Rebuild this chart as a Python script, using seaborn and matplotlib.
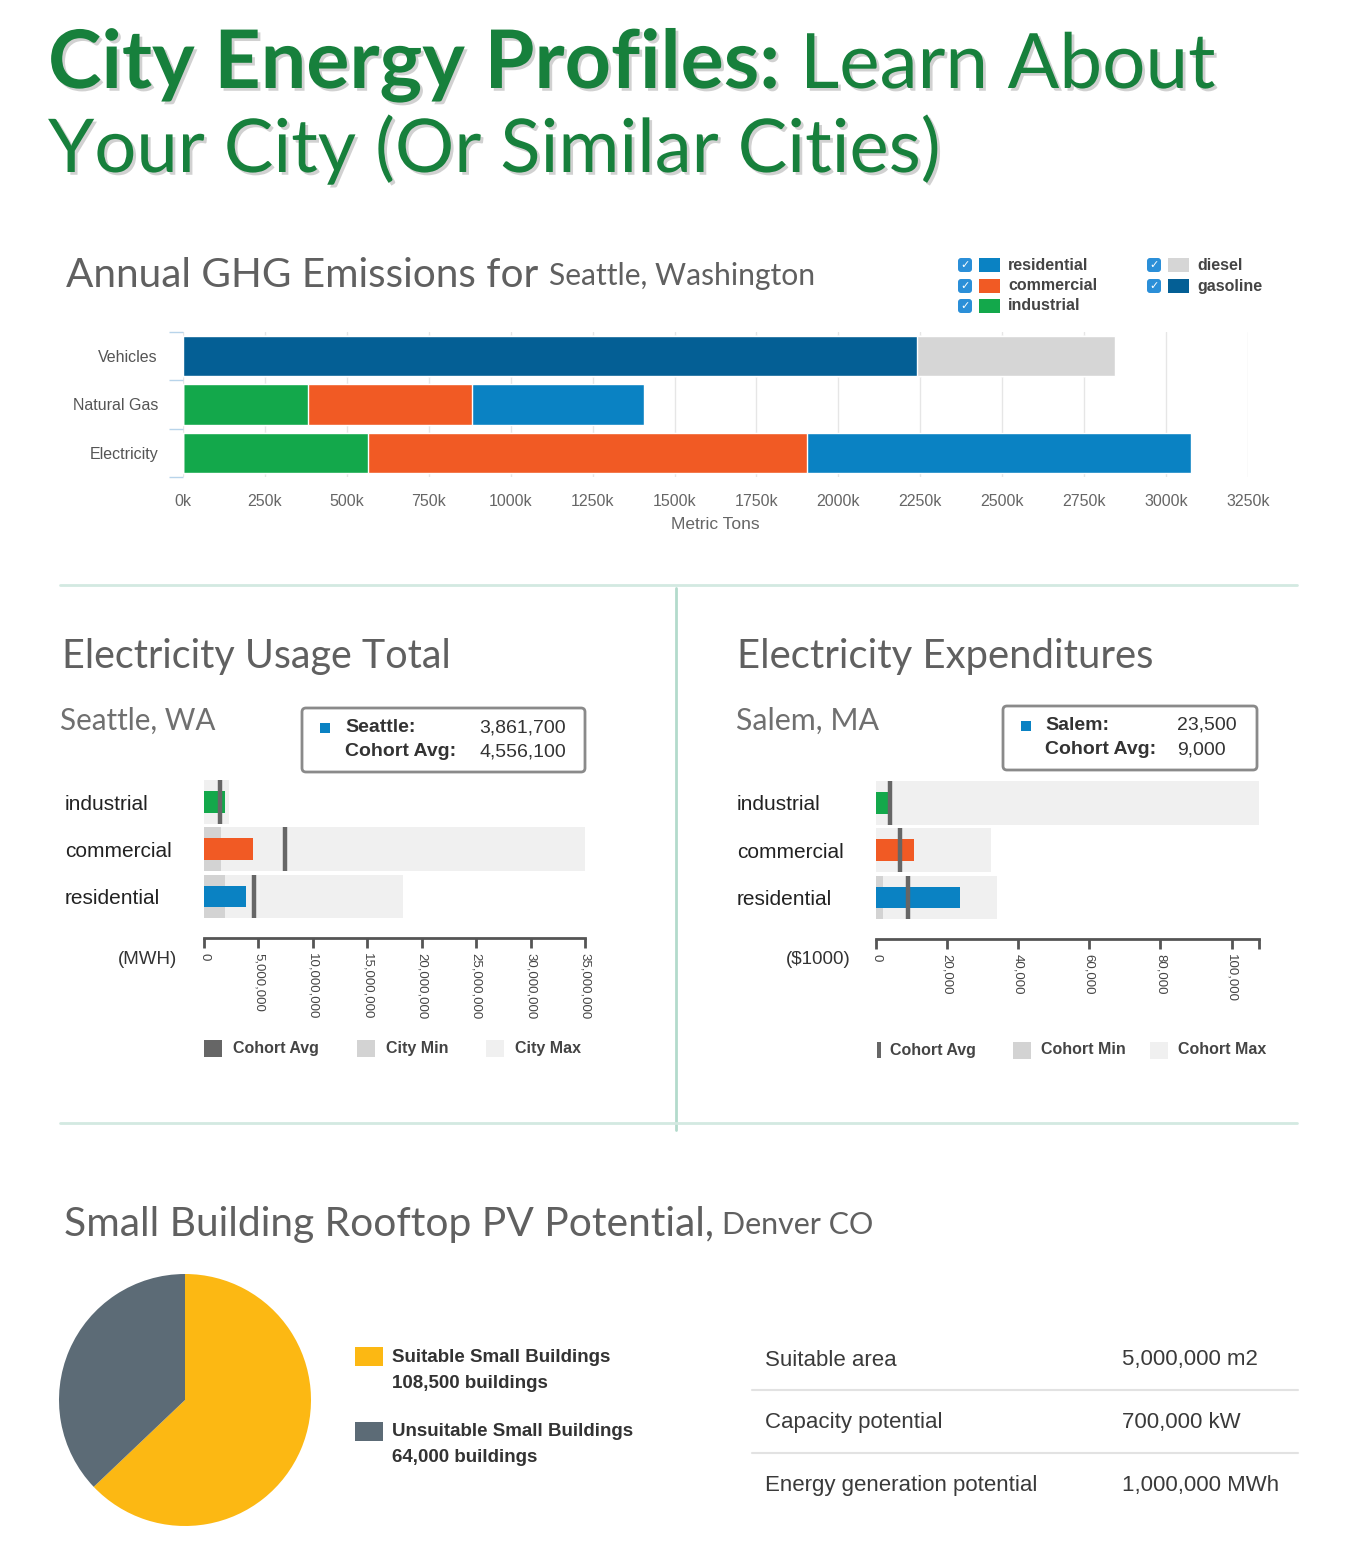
import numpy as np
import pandas as pd
import matplotlib
matplotlib.use('Agg')
import matplotlib.pyplot as plt
import seaborn as sns
from matplotlib.patches import FancyBboxPatch, Rectangle
import matplotlib.patheffects as pe

# ------------------------------------------------------------------ data
ghg_sectors = ['Vehicles', 'Natural Gas', 'Electricity']
ghg_gasoline = [2240, 0, 0]
ghg_diesel = [605, 0, 0]
ghg_industrial = [0, 381, 565]
ghg_commercial = [0, 501, 1339]
ghg_residential = [0, 525, 1172]
ghg_ticks = list(range(0, 3251, 250))

usage_categories = ['industrial', 'commercial', 'residential']
usage_city = [1_900_000, 4_500_000, 3_861_700]
usage_cohort_avg = [1_450_000, 7_450_000, 4_556_100]
usage_city_min = [0, 1_600_000, 1_900_000]
usage_city_max = [2_300_000, 35_000_000, 18_300_000]
usage_ticks = list(range(0, 35_000_001, 5_000_000))

exp_categories = ['industrial', 'commercial', 'residential']
exp_city = [3_300, 10_800, 23_500]
exp_cohort_avg = [3_800, 6_700, 9_000]
exp_cohort_min = [0, 0, 1_900]
exp_cohort_max = [107_700, 32_300, 33_900]
exp_ticks = list(range(0, 100_001, 20_000))
exp_axis_max = 107_700

pv_labels = ['Suitable Small Buildings', 'Unsuitable Small Buildings']
pv_buildings = [108_500, 64_000]
pv_metrics = ['Suitable area', 'Capacity potential', 'Energy generation potential']
pv_values = ['5,000,000 m2', '700,000 kW', '1,000,000 MWh']

# ------------------------------------------------------------------ style
C_RES, C_COM, C_IND = '#0a82c3', '#f15a24', '#13a84b'
C_DIE, C_GAS = '#d6d6d6', '#045f95'
C_MAX, C_MIN, C_AVG = '#f0f0f0', '#d3d3d3', '#666666'
C_YEL, C_SLATE = '#fcb813', '#5c6b76'
GREEN = '#17803c'
TITLE_GREY = '#606060'
TXT = '#333333'
cat_colors = {'industrial': C_IND, 'commercial': C_COM, 'residential': C_RES}

sns.set_theme(style='white')
plt.rcParams['font.family'] = ['Liberation Sans', 'DejaVu Sans']

W, H = 1350, 1553
fig = plt.figure(figsize=(W / 100, H / 100), dpi=100)
fig.patch.set_facecolor('white')


def px(x0, y0, x1, y1):
    return [x0 / W, 1 - y1 / H, (x1 - x0) / W, (y1 - y0) / H]


ov = fig.add_axes([0, 0, 1, 1], zorder=0)
ov.set_xlim(0, W)
ov.set_ylim(H, 0)
ov.axis('off')
ov.patch.set_alpha(0)
renderer = fig.canvas.get_renderer()


def fit(x, y, s, width, family='Lato', weight='normal', color=TITLE_GREY, **kw):
    t = ov.text(x, y, s, fontsize=30, family=family, weight=weight, color=color,
                va='baseline', ha='left', **kw)
    w = t.get_window_extent(renderer=renderer).width
    t.set_fontsize(30 * width / w)
    return t


def T(x, y, s, size, weight='normal', color=TXT, ha='left', va='center', **kw):
    return ov.text(x, y, s, fontsize=size, weight=weight, color=color, ha=ha, va=va, **kw)


# ------------------------------------------------------------------ main title
shadow = [pe.SimplePatchShadow(offset=(2, -2), shadow_rgbFace='#9a9a9a', alpha=0.45), pe.Normal()]
t = fit(48, 88, 'City Energy Profiles:', 732, weight='bold', color=GREEN)
t.set_path_effects(shadow)
t = fit(800, 88, 'Learn About', 415, color=GREEN)
t.set_path_effects(shadow)
t = fit(48, 172, 'Your City (Or Similar Cities)', 892, color=GREEN)
t.set_path_effects(shadow)

# ------------------------------------------------------------------ GHG chart
fit(66, 287, 'Annual GHG Emissions for', 472)
fit(549, 285, 'Seattle, Washington', 266)


def checkbox(x, yc):
    ov.add_patch(FancyBboxPatch((x, yc - 7), 14, 14, boxstyle='round,pad=0,rounding_size=3',
                                fc='#2b8fd8', ec='none'))
    ov.text(x + 7, yc, '\u2713', color='white', ha='center', va='center', fontsize=8,
            family='DejaVu Sans', weight='bold')


leg1 = [('residential', C_RES, 958, 265), ('commercial', C_COM, 958, 286),
        ('industrial', C_IND, 958, 306), ('diesel', C_DIE, 1147, 265),
        ('gasoline', C_GAS, 1147, 286)]
for name, col, x, yc in leg1:
    checkbox(x, yc)
    ov.add_patch(Rectangle((x + 21, yc - 7), 21, 14, fc=col, ec='none'))
    T(x + 50, yc, name, 11.5, weight='bold', color='#444444')

ax1 = fig.add_axes(px(183, 332, 1248, 477))
df_ghg = pd.DataFrame({'sector': ghg_sectors, 'gasoline': ghg_gasoline, 'diesel': ghg_diesel,
                       'industrial': ghg_industrial, 'commercial': ghg_commercial,
                       'residential': ghg_residential})
stack_order = ['gasoline', 'diesel', 'industrial', 'commercial', 'residential']
ghg_colors = {'gasoline': C_GAS, 'diesel': C_DIE, 'industrial': C_IND,
              'commercial': C_COM, 'residential': C_RES}
cum = df_ghg[stack_order].cumsum(axis=1)
for col in reversed(stack_order):
    sns.barplot(x=cum[col], y=df_ghg['sector'], orient='h', color=ghg_colors[col],
                saturation=1, width=0.83, order=ghg_sectors, errorbar=None,
                edgecolor='white', linewidth=1.0, ax=ax1)
ax1.set_xlim(0, 3250)
ax1.set_ylim(2.5, -0.5)
ax1.set_xticks(ghg_ticks)
ax1.set_xticklabels([f'{v}k' for v in ghg_ticks], fontsize=11.5, color='#666666')
ax1.tick_params(axis='x', length=0, pad=12)
ax1.tick_params(axis='y', which='major', length=0, pad=18, labelsize=11.5, labelcolor='#555555')
ax1.set_yticks([-0.5, 0.5, 1.5, 2.5], minor=True)
ax1.tick_params(axis='y', which='minor', length=10, width=1, color='#b8d4ea', left=True)
ax1.grid(axis='x', color='#e6e6e6', lw=1)
ax1.set_axisbelow(True)
for s in ax1.spines.values():
    s.set_visible(False)
ax1.set_ylabel('')
ax1.set_xlabel('Metric Tons', fontsize=12.5, color='#666666', labelpad=6)

# ------------------------------------------------------------------ separators
ov.plot([60, 1297], [585, 585], color='#d3e9e1', lw=2)
ov.plot([676, 676], [588, 1130], color='#b3dbcc', lw=2)
ov.plot([60, 1297], [1123, 1123], color='#d3e9e1', lw=2)


# ------------------------------------------------------------------ bullet charts
def bullet(ax, cats, city, avg, cmin, cmax, xmax, ticks, extra_tick=None):
    df = pd.DataFrame({'category': cats, 'city': city, 'avg': avg, 'min': cmin, 'max': cmax})
    sns.barplot(data=df, y='category', x='max', orient='h', color=C_MAX, saturation=1,
                width=0.92, order=cats, errorbar=None, linewidth=0, ax=ax)
    sns.barplot(data=df, y='category', x='min', orient='h', color=C_MIN, saturation=1,
                width=0.92, order=cats, errorbar=None, linewidth=0, ax=ax)
    sns.barplot(data=df, y='category', x='city', orient='h', hue='category', palette=cat_colors,
                saturation=1, width=0.46, order=cats, hue_order=cats, errorbar=None,
                legend=False, linewidth=0, ax=ax)
    ypos = np.arange(len(cats))
    ax.vlines(df['avg'], ypos - 0.46, ypos + 0.46, color=C_AVG, lw=3.2, zorder=5)
    for s in ['top', 'right', 'left']:
        ax.spines[s].set_visible(False)
    ax.spines['bottom'].set_color('#555555')
    ax.spines['bottom'].set_linewidth(2)
    ax.spines['bottom'].set_position(('outward', 13))
    ax.set_xlim(0, xmax)
    ax.set_ylim(2.5, -0.5)
    tk = list(ticks) + ([extra_tick] if extra_tick else [])
    ax.set_xticks(tk)
    labels = [f'{v:,}' for v in ticks] + ([''] if extra_tick else [])
    ax.set_xticklabels(labels, fontsize=9.5, color='#444444')
    ax.tick_params(axis='x', length=7, width=2, color='#555555', direction='out', pad=4,
                   bottom=True, labelrotation=-90)
    for lab in ax.get_xticklabels():
        lab.set_va('top')
        lab.set_ha('center')
    ax.set_yticks(ypos)
    ax.set_yticklabels(cats, ha='left', fontsize=15, color='#222222')
    ax.tick_params(axis='y', length=0, pad=139 * 0.72)
    ax.set_xlabel('')
    ax.set_ylabel('')
    ax.grid(False)


# Electricity Usage Total
fit(62, 668, 'Electricity Usage Total', 389)
fit(60, 730, 'Seattle, WA', 155, color='#707070')
ax2 = fig.add_axes(px(204, 778.4, 585, 920))
bullet(ax2, usage_categories, usage_city, usage_cohort_avg, usage_city_min, usage_city_max,
       35_000_000, usage_ticks)
T(177, 960, '(MWH)', 13.5, ha='right', color='#333333')

ov.add_patch(FancyBboxPatch((302, 708), 283, 64, boxstyle='round,pad=0,rounding_size=4',
                            fc='white', ec='#8a8a8a', lw=2))
ov.add_patch(Rectangle((320, 723), 10, 10, fc=C_RES, ec='none'))
T(345, 728, 'Seattle:', 14, weight='bold')
T(566, 728, f'{usage_city[2]:,}', 14, ha='right')
T(345, 752, 'Cohort Avg:', 14, weight='bold')
T(566, 752, f'{usage_cohort_avg[2]:,}', 14, ha='right')

for x0, col, name in [(204, C_AVG, 'Cohort Avg'), (357, C_MIN, 'City Min'), (486, C_MAX, 'City Max')]:
    ov.add_patch(Rectangle((x0, 1040), 18, 17, fc=col, ec='none'))
    T(x0 + 29, 1049, name, 11.5, weight='bold', color='#444444')

# Electricity Expenditures
fit(737, 668, 'Electricity Expenditures', 415)
fit(736, 730, 'Salem, MA', 143, color='#707070')
ax3 = fig.add_axes(px(876, 779.4, 1259, 921))
bullet(ax3, exp_categories, exp_city, exp_cohort_avg, exp_cohort_min, exp_cohort_max,
       exp_axis_max, exp_ticks, extra_tick=exp_axis_max)
T(851, 960, '($1000)', 13.5, ha='right', color='#333333')

ov.add_patch(FancyBboxPatch((1003, 706), 254, 64, boxstyle='round,pad=0,rounding_size=4',
                            fc='white', ec='#8a8a8a', lw=2))
ov.add_patch(Rectangle((1021, 721), 10, 10, fc=C_RES, ec='none'))
T(1045, 725, 'Salem:', 14, weight='bold')
T(1177, 725, f'{exp_city[2]:,}', 14)
T(1045, 750, 'Cohort Avg:', 14, weight='bold')
T(1177, 750, f'{exp_cohort_avg[2]:,}', 14)

ov.add_patch(Rectangle((877, 1042), 3.5, 16, fc=C_AVG, ec='none'))
T(890, 1050, 'Cohort Avg', 11.5, weight='bold', color='#444444')
for x0, col, name in [(1013, C_MIN, 'Cohort Min'), (1150, C_MAX, 'Cohort Max')]:
    ov.add_patch(Rectangle((x0, 1042), 18, 17, fc=col, ec='none'))
    T(x0 + 28, 1050, name, 11.5, weight='bold', color='#444444')

# ------------------------------------------------------------------ PV section
fit(64, 1236, 'Small Building Rooftop PV Potential,', 648)
fit(722, 1234, 'Denver CO', 151)

ax4 = fig.add_axes(px(59, 1274, 311, 1526))
ax4.pie(pv_buildings, colors=[C_YEL, C_SLATE], startangle=90, counterclock=False,
        wedgeprops={'linewidth': 0})
ax4.set_xlim(-1, 1)
ax4.set_ylim(-1, 1)
ax4.set_aspect('equal')
ax4.axis('off')

for i, (lab, n, col) in enumerate(zip(pv_labels, pv_buildings, [C_YEL, C_SLATE])):
    y0 = 1347 + i * 75
    ov.add_patch(Rectangle((355, y0), 28, 19, fc=col, ec='none'))
    T(392, y0 + 10, lab, 13.5, weight='bold')
    T(392, y0 + 36, f'{n:,} buildings', 13.5, weight='bold')

for i, (m, v) in enumerate(zip(pv_metrics, pv_values)):
    yc = 1360 + i * 62.5
    T(765, yc, m, 16, color='#3a3a3a')
    T(1122, yc, v, 16, color='#3a3a3a')
    if i < 2:
        ov.plot([752, 1298], [yc + 30, yc + 30], color='#e2e2e2', lw=1.5)

fig.savefig('out.png', dpi=100, facecolor='white')
